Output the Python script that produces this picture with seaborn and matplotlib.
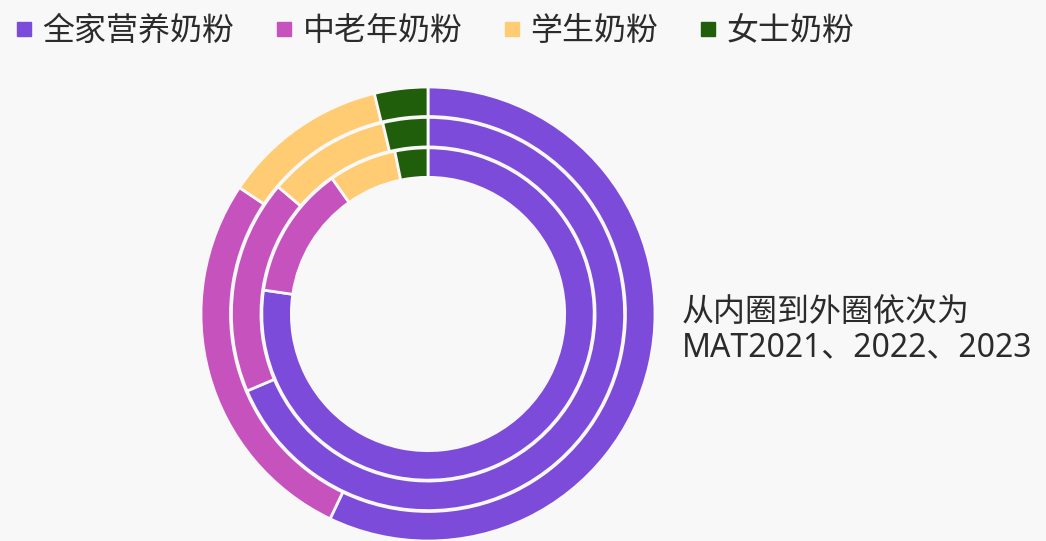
import matplotlib.pyplot as plt
import seaborn as sns
from matplotlib.lines import Line2D

categories = ['全家营养奶粉', '中老年奶粉', '学生奶粉', '女士奶粉']
share_2021 = [77.3, 12.9, 6.6, 3.2]
share_2022 = [68.6, 17.6, 10.1, 3.7]
share_2023 = [57.1, 27.3, 11.8, 3.8]
note = '从内圈到外圈依次为\nMAT2021、2022、2023'

colors = ['#7d4bd9', '#c652be', '#ffcc73', '#215e0b']
bg = '#f8f8f8'

sns.set_theme(style='white')
plt.rcParams['font.family'] = ['Noto Sans', 'Noto Sans CJK SC', 'DejaVu Sans']

fig = plt.figure(figsize=(10.46, 5.41), dpi=100, facecolor=bg)
# square axes: center (428, 314) px, radius 227 px
ax = fig.add_axes([(428 - 227) / 1046, (541 - 314 - 227) / 541, 454 / 1046, 454 / 541])
ax.set_facecolor(bg)

rings = [(share_2023, 1.0), (share_2022, 0.866), (share_2021, 0.732)]
for values, r in rings:
    ax.pie(values, radius=r, colors=colors, startangle=90, counterclock=False,
           wedgeprops=dict(width=0.13, edgecolor=bg, linewidth=2))
ax.set_xlim(-1, 1)
ax.set_ylim(-1, 1)
ax.set_aspect('equal')
ax.axis('off')

handles = [Line2D([], [], marker='s', linestyle='none', markersize=10.5,
                  markerfacecolor=c, markeredgecolor=c) for c in colors]
fig.legend(handles, categories, loc='upper left', bbox_to_anchor=(-0.012, 1.025),
           ncol=4, frameon=False, fontsize=23, handlelength=0.5, handletextpad=0.32,
           columnspacing=1.31, labelcolor='#2b2b2b')

fig.text(682 / 1046, 1 - 330 / 541, note, fontsize=23, color='#2b2b2b',
         ha='left', va='center', linespacing=1.1)

fig.savefig('out.png', dpi=100, facecolor=bg)
